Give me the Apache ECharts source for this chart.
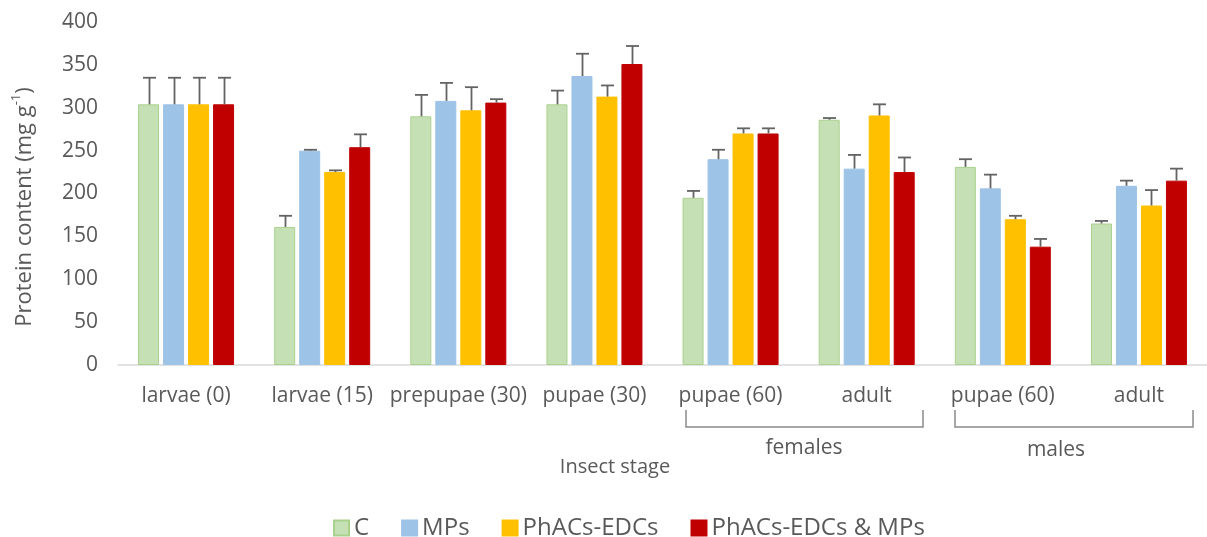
<!DOCTYPE html>
<html>
<head>
<meta charset="utf-8">
<script src="https://cdn.jsdelivr.net/npm/echarts@6/dist/echarts.min.js"></script>
<style>
  html, body { margin: 0; padding: 0; background: #ffffff; }
  #chart { width: 1207px; height: 537px; }
</style>
</head>
<body>
<div id="chart"></div>
<script>
// ---- data ----
const categories = ['larvae (0)', 'larvae (15)', 'prepupae (30)', 'pupae (30)', 'pupae (60)', 'adult', 'pupae (60)', 'adult'];
const seriesNames = ['C', 'MPs', 'PhACs-EDCs', 'PhACs-EDCs & MPs'];
const valuesC     = [304, 161, 290, 304, 195, 286, 231, 165];
const valuesMPs   = [304, 250, 308, 337, 240, 229, 206, 209];
const valuesPhACs = [304, 225, 297, 313, 270, 291, 170, 186];
const valuesBoth  = [304, 254, 306, 351, 270, 225, 138, 215];
const errC     = [31, 13, 25, 16, 8, 2, 9, 3];
const errMPs   = [31, 1, 21, 26, 11, 16, 16, 6];
const errPhACs = [31, 2, 27, 13, 6, 13, 4, 18];
const errBoth  = [31, 15, 4, 21, 6, 17, 9, 14];
const yTicks = { min: 0, max: 400, interval: 50 };

// ---- styles ----
const FONT = 'Open Sans';
const TXT = '#595959';
const colors = ['#c5e0b4', '#9dc3e6', '#ffc000', '#c00000'];
const borders = ['#a9d18e', '#9dc3e6', '#ffc000', '#c00000'];
const BAR_W = 21, BAR_GAP_PX = 4;

const allValues = [valuesC, valuesMPs, valuesPhACs, valuesBoth];
const allErr = [errC, errMPs, errPhACs, errBoth];

const chart = echarts.init(document.getElementById('chart'), null, { renderer: 'canvas' });

const barSeries = seriesNames.map((name, s) => ({
  name: name,
  type: 'bar',
  data: allValues[s],
  barWidth: BAR_W,
  barGap: (BAR_GAP_PX / BAR_W * 100) + '%',
  itemStyle: { color: colors[s], borderColor: borders[s], borderWidth: 1 },
  emphasis: { disabled: true },
  z: 2
}));

const errSeries = seriesNames.map((name, s) => {
  const offset = (s - 1.5) * (BAR_W + BAR_GAP_PX);
  return {
    name: name + ' err',
    type: 'custom',
    data: allValues[s].map((v, i) => [i, v + allErr[s][i], v]),
    encode: { x: 0, y: 1 },
    z: 5,
    silent: true,
    renderItem: function (params, api) {
      const i = api.value(0);
      const top = api.coord([i, api.value(1)]);
      const base = api.coord([i, api.value(2)]);
      const x = Math.round(base[0] + offset) + 0.5;
      const st = { stroke: '#636363', lineWidth: 1.8 };
      return {
        type: 'group',
        children: [
          { type: 'line', shape: { x1: x, y1: base[1], x2: x, y2: top[1] }, style: st },
          { type: 'line', shape: { x1: x - 6.5, y1: top[1], x2: x + 6.5, y2: top[1] }, style: st }
        ]
      };
    }
  };
});

const bracketStyle = { stroke: '#8a8a8a', lineWidth: 1.5, fill: null };

const option = {
  animation: false,
  backgroundColor: '#ffffff',
  textStyle: { fontFamily: FONT },
  grid: { left: 118, top: 22, width: 1116, height: 343, containLabel: false },
  legend: {
    data: seriesNames,
    left: 328,
    top: 511,
    icon: 'rect',
    itemWidth: 15,
    itemHeight: 15,
    itemGap: 32,
    textStyle: { fontFamily: FONT, fontSize: 24, color: TXT },
    selectedMode: false
  },
  xAxis: {
    type: 'category',
    data: categories,
    axisLine: { show: true, lineStyle: { color: '#d9d9d9', width: 1.5 } },
    axisTick: { show: false },
    axisLabel: { interval: 0, color: TXT, fontFamily: FONT, fontSize: 21, margin: 21 },
    splitLine: { show: false }
  },
  yAxis: {
    type: 'value',
    min: yTicks.min,
    max: yTicks.max,
    interval: yTicks.interval,
    axisLine: { show: false },
    axisTick: { show: false },
    splitLine: { show: false },
    axisLabel: { color: TXT, fontFamily: FONT, fontSize: 21, margin: 20 }
  },
  graphic: [
    {
      type: 'text',
      x: 25, y: 207,
      rotation: Math.PI / 2,
      style: {
        text: '{a|Protein content (mg g}{s|-1}{a|)}',
        align: 'center', verticalAlign: 'middle',
        rich: {
          a: { fontFamily: FONT, fontSize: 22, fill: TXT, color: TXT },
          s: { fontFamily: FONT, fontSize: 13, fill: TXT, color: TXT, verticalAlign: 'top', lineHeight: 30, padding: [0, 0, 10, 0] }
        }
      }
    },
    {
      type: 'text', x: 615, y: 467,
      style: { text: 'Insect stage', fontFamily: FONT, fontSize: 20, fill: TXT, align: 'center', verticalAlign: 'middle' }
    },
    {
      type: 'polyline',
      shape: { points: [[686, 410], [686, 427], [923, 427], [923, 410]] },
      style: bracketStyle
    },
    {
      type: 'polyline',
      shape: { points: [[955, 410], [955, 427], [1193, 427], [1193, 410]] },
      style: bracketStyle
    },
    {
      type: 'text', x: 804, y: 448,
      style: { text: 'females', fontFamily: FONT, fontSize: 21, fill: TXT, align: 'center', verticalAlign: 'middle' }
    },
    {
      type: 'text', x: 1056, y: 450,
      style: { text: 'males', fontFamily: FONT, fontSize: 21, fill: TXT, align: 'center', verticalAlign: 'middle' }
    }
  ],
  series: barSeries.concat(errSeries)
};

chart.setOption(option);
</script>
</body>
</html>
